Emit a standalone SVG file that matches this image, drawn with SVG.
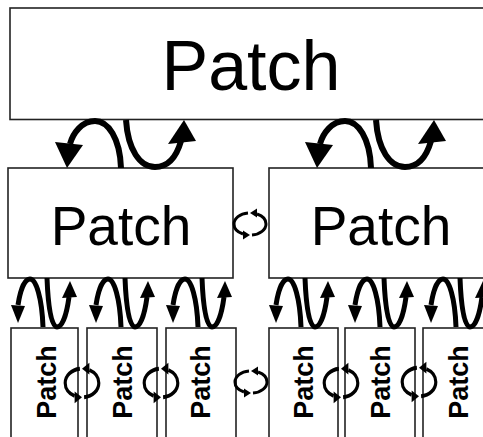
<svg xmlns="http://www.w3.org/2000/svg" xmlns:xlink="http://www.w3.org/1999/xlink" width="483" height="437" viewBox="0 0 483 437">
  <style>
    .box { fill: #ffffff; stroke: #222222; stroke-width: 1.6; }
    .lbl { font-family: "Liberation Sans", Arial, sans-serif; fill: #000000; text-anchor: middle; }
    .big { font-size: 70px; }
    .mid { font-size: 55px; }
    .small { font-size: 27px; font-weight: bold; }
    .curve { fill: none; stroke: #000000; stroke-width: 6; }
    .curve-s { fill: none; stroke: #000000; stroke-width: 5; }
    .head { fill: #000000; }
    .loop { fill: none; stroke: #000000; stroke-width: 3; }
  </style>
  <defs>
    <!-- exchange pair: top level to middle level -->
    <g id="pair-big">
      <path class="curve" d="M121,168 C120,138 108,121 95,121 C82,121 73,133 70,144"/>
      <polygon class="head" points="55,142 83,145 67,168"/>
      <path class="curve" d="M126,120 C128,150 140,167 155,167 C169,167 177,155 181,141"/>
      <polygon class="head" points="168,144 196,141 184,120"/>
    </g>
    <!-- exchange pair: middle level to bottom level -->
    <g id="pair-small">
      <path class="curve-s" d="M43,327 C42,298 36,279 30,279 C24,279 20,292 18,305"/>
      <polygon class="head" points="11,305 25,306 18,323"/>
      <path class="curve-s" d="M47,278 C48,305 51,327 57,327 C63,327 67,312 69,297"/>
      <polygon class="head" points="62,298 77,297 70,281"/>
    </g>
    <!-- sideways exchange between neighbouring patches -->
    <g id="loop">
      <path class="loop" d="M-2,-11 A16,11 0 0 0 -16,0 A16,11 0 0 0 -7,10"/>
      <polygon class="head" points="0,11 -7,6.5 -7,15.5"/>
      <path class="loop" d="M2,11 A16,11 0 0 0 16,0 A16,11 0 0 0 7,-10"/>
      <polygon class="head" points="0,-11 7,-15.5 7,-6.5"/>
    </g>
  </defs>

  <g id="patch-top">
    <rect class="box" x="10" y="8" width="490" height="111.5"/>
    <text class="lbl big" x="251" y="90">Patch</text>
  </g>

  <g id="patch-mid-1">
    <rect class="box" x="8" y="168" width="225" height="110"/>
    <text class="lbl mid" x="121" y="245">Patch</text>
  </g>
  <g id="patch-mid-2">
    <rect class="box" x="269" y="168" width="230" height="110"/>
    <text class="lbl mid" x="381" y="245">Patch</text>
  </g>

  <g id="patch-low-1">
    <rect class="box" x="11" y="328" width="67" height="120"/>
    <text class="lbl small" transform="translate(46,382) rotate(-90)" y="9.5">Patch</text>
  </g>
  <g id="patch-low-2">
    <rect class="box" x="87" y="328" width="70" height="120"/>
    <text class="lbl small" transform="translate(122,382) rotate(-90)" y="9.5">Patch</text>
  </g>
  <g id="patch-low-3">
    <rect class="box" x="166" y="328" width="70" height="120"/>
    <text class="lbl small" transform="translate(200,382) rotate(-90)" y="9.5">Patch</text>
  </g>
  <g id="patch-low-4">
    <rect class="box" x="269" y="328" width="69" height="120"/>
    <text class="lbl small" transform="translate(303,382) rotate(-90)" y="9.5">Patch</text>
  </g>
  <g id="patch-low-5">
    <rect class="box" x="345" y="328" width="70" height="120"/>
    <text class="lbl small" transform="translate(380,382) rotate(-90)" y="9.5">Patch</text>
  </g>
  <g id="patch-low-6">
    <rect class="box" x="423" y="328" width="80" height="120"/>
    <text class="lbl small" transform="translate(458,382) rotate(-90)" y="9.5">Patch</text>
  </g>

  <g id="connectors">
    <use xlink:href="#pair-big"/>
    <use xlink:href="#pair-big" transform="translate(250,0)"/>

    <use xlink:href="#pair-small"/>
    <use xlink:href="#pair-small" transform="translate(78,0)"/>
    <use xlink:href="#pair-small" transform="translate(155,0)"/>
    <use xlink:href="#pair-small" transform="translate(258,0)"/>
    <use xlink:href="#pair-small" transform="translate(337,0)"/>
    <use xlink:href="#pair-small" transform="translate(413,0)"/>

    <use xlink:href="#loop" transform="translate(250,224)"/>
    <use xlink:href="#loop" transform="translate(251,382)"/>
    <use xlink:href="#loop" transform="translate(82,383) scale(1.05,1.3)"/>
    <use xlink:href="#loop" transform="translate(161,383) scale(1.05,1.3)"/>
    <use xlink:href="#loop" transform="translate(341,383) scale(1.05,1.3)"/>
    <use xlink:href="#loop" transform="translate(419,382) scale(1.05,1.3)"/>
  </g>
</svg>
